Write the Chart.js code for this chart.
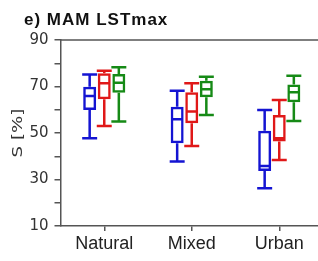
<!DOCTYPE html>
<html><head><meta charset="utf-8">
<script src="https://cdn.jsdelivr.net/npm/chart.js@4"></script>
<style>html,body{margin:0;padding:0;overflow:hidden;background:#fff;width:318px;height:261px}canvas{display:block}</style>
</head><body>
<canvas id="c" width="324" height="261"></canvas>
<script>
const categories = ['Natural', 'Mixed', 'Urban'];
const yTicks = [10, 30, 50, 70, 90];
const titleText = 'e) MAM LSTmax';
const yTitle = 'S [%]';

const blueMin = [47.7, 37.7, 26.2];
const blueQ1  = [59.9, 45.6, 33.7];
const blueMed = [65.9, 55.9, 35.8];
const blueQ3  = [69.9, 61.3, 51.0];
const blueMax = [75.2, 68.2, 59.9];

const redMin = [53.0, 44.4, 38.4];
const redQ1  = [64.5, 54.2, 46.3];
const redMed = [71.4, 59.2, 47.7];
const redQ3  = [75.7, 67.5, 57.7];
const redMax = [76.8, 71.4, 64.2];

const greenMin = [54.9, 57.7, 55.2];
const greenQ1  = [67.3, 65.4, 63.2];
const greenMed = [71.6, 68.8, 67.5];
const greenQ3  = [75.4, 72.5, 70.9];
const greenMax = [78.3, 74.2, 74.6];

function makeSet(label, color, mn, q1, md, q3, mx) {
  return {
    label, borderColor: color, backgroundColor: 'rgba(0,0,0,0)',
    borderWidth: 2.5, borderSkipped: false,
    data: categories.map((c, i) => [q1[i], q3[i]]),
    whMin: mn, whMed: md, whMax: mx,
    categoryPercentage: 0.5, barPercentage: 0.89
  };
}

const boxPlugin = {
  id: 'boxWhiskers',
  afterDatasetsDraw(chart) {
    const ctx = chart.ctx, y = chart.scales.y;
    chart.data.datasets.forEach((ds, di) => {
      const meta = chart.getDatasetMeta(di);
      meta.data.forEach((bar, i) => {
        const x = bar.x, w = bar.width;
        const pMin = y.getPixelForValue(ds.whMin[i]);
        const pMax = y.getPixelForValue(ds.whMax[i]);
        const pMed = y.getPixelForValue(ds.whMed[i]);
        const pQ1 = y.getPixelForValue(ds.data[i][0]);
        const pQ3 = y.getPixelForValue(ds.data[i][1]);
        ctx.save();
        ctx.strokeStyle = ds.borderColor;
        ctx.lineWidth = 2.5;
        ctx.beginPath();
        ctx.moveTo(x, pQ3); ctx.lineTo(x, pMax);
        ctx.moveTo(x, pQ1); ctx.lineTo(x, pMin);
        ctx.moveTo(x - w / 2 - 1, pMax); ctx.lineTo(x + w / 2 + 1, pMax);
        ctx.moveTo(x - w / 2 - 1, pMin); ctx.lineTo(x + w / 2 + 1, pMin);
        ctx.moveTo(x - w / 2 + 1, pMed); ctx.lineTo(x + w / 2 - 1, pMed);
        ctx.stroke();
        ctx.restore();
      });
    });
  },
  afterDraw(chart) {
    const ctx = chart.ctx, a = chart.chartArea;
    ctx.save();
    ctx.strokeStyle = '#555'; ctx.lineWidth = 1.5;
    ctx.beginPath(); ctx.moveTo(a.left, a.top); ctx.lineTo(a.right, a.top); ctx.stroke();
    // title
    ctx.fillStyle = '#111';
    ctx.font = 'bold 17px "Liberation Sans", Arial, sans-serif';
    ctx.letterSpacing = '1px';
    ctx.textBaseline = 'alphabetic'; ctx.textAlign = 'left';
    ctx.fillText(titleText, 24, 24.5);
    ctx.letterSpacing = '0px';
    // y title
    ctx.fillStyle = '#333';
    ctx.translate(18, (a.top + a.bottom) / 2);
    ctx.rotate(-Math.PI / 2);
    ctx.scale(1.3, 1);
    ctx.font = '14px "DejaVu Sans", sans-serif';
    ctx.textAlign = 'center'; ctx.textBaseline = 'middle';
    ctx.fillText(yTitle, 0, 0);
    ctx.restore();
  }
};

Chart.defaults.font.family = '"DejaVu Sans", sans-serif';
new Chart(document.getElementById('c'), {
  type: 'bar',
  data: {
    labels: categories,
    datasets: [
      makeSet('Blue', '#1414d2', blueMin, blueQ1, blueMed, blueQ3, blueMax),
      makeSet('Red', '#e01818', redMin, redQ1, redMed, redQ3, redMax),
      makeSet('Green', '#168a16', greenMin, greenQ1, greenMed, greenQ3, greenMax)
    ]
  },
  options: {
    responsive: false, animation: false,
    layout: { padding: { left: 0, top: 40, right: 1, bottom: 0 } },
    plugins: { legend: { display: false }, tooltip: { enabled: false }, title: { display: false } },
    scales: {
      x: {
        grid: { display: true, drawOnChartArea: false, offset: false, tickLength: 5, color: '#555', lineWidth: 1.5 },
        border: { display: true, color: '#555', width: 1.5 },
        ticks: { color: '#222', padding: 2, font: { family: '"Liberation Sans", Arial, sans-serif', size: 18 } },
        afterFit(s) { s.height = 35; }
      },
      y: {
        min: 10, max: 90,
        grid: { display: true, drawOnChartArea: false, tickLength: 6, color: '#555', lineWidth: 1.5 },
        border: { display: true, color: '#555', width: 1.5 },
        ticks: {
          stepSize: 10, autoSkip: false, padding: 6, color: '#333',
          font: { size: 15 },
          callback: (v) => yTicks.includes(v) ? String(v) : ''
        },
        afterFit(s) { s.width = 60.5; }
      }
    }
  },
  plugins: [boxPlugin]
});
</script>
</body></html>
